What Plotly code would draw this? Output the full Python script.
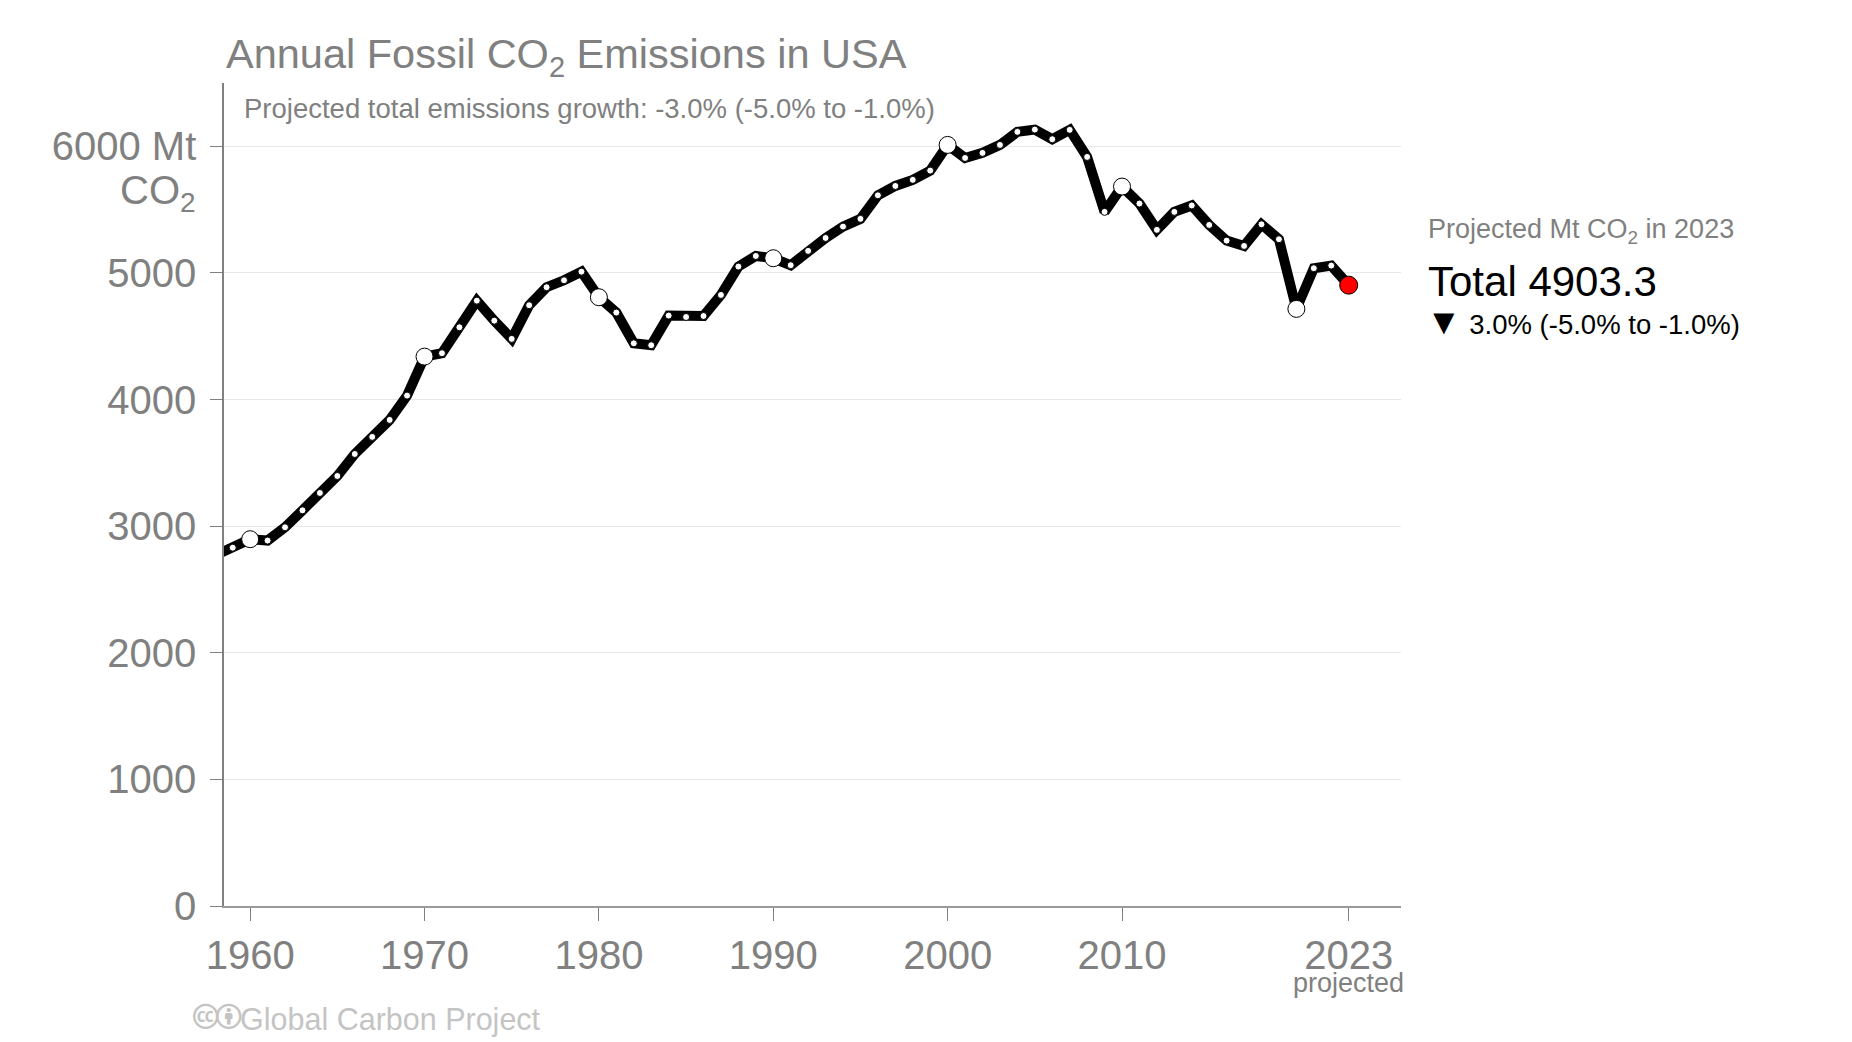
import plotly.graph_objects as go

years = list(range(1958, 2024))
emissions = [2770, 2830, 2897, 2886, 2991, 3125, 3262, 3396, 3570, 3705,
             3839, 4031, 4339, 4366, 4571, 4781, 4623, 4479, 4745, 4887,
             4942, 5010, 4808, 4687, 4444, 4429, 4663, 4652, 4660, 4826,
             5050, 5134, 5116, 5061, 5174, 5276, 5366, 5427, 5613, 5687,
             5735, 5808, 6011, 5908, 5948, 6011, 6114, 6132, 6056, 6130,
             5916, 5482, 5682, 5548, 5340, 5482, 5533, 5379, 5255, 5213,
             5384, 5266, 4716, 5037, 5058, 4903.3]
proj_year = 2023
proj_value = 4903.3
growth = "-3.0%"
growth_range = "(-5.0% to -1.0%)"

ytick_vals = [0, 1000, 2000, 3000, 4000, 5000, 6000]
ytick_text = ["0", "1000", "2000", "3000", "4000", "5000", "6000 Mt"]
xtick_vals = [1960, 1970, 1980, 1990, 2000, 2010, 2023]
xtick_text = ["1960", "1970", "1980", "1990", "2000", "2010", "2023"]

font = "Liberation Sans, Arial, Helvetica, sans-serif"
grey = "#808080"

small_x = [y for y in years if y % 10 != 0 and y != proj_year]
small_y = [v for y, v in zip(years, emissions) if y % 10 != 0 and y != proj_year]
big_x = [y for y in years if y % 10 == 0]
big_y = [v for y, v in zip(years, emissions) if y % 10 == 0]

fig = go.Figure()
fig.add_trace(go.Scatter(x=years, y=emissions, mode="lines",
                         line=dict(color="black", width=10)))
fig.add_trace(go.Scatter(x=small_x, y=small_y, mode="markers",
                         marker=dict(color="white", size=7,
                                     line=dict(color="black", width=1))))
fig.add_trace(go.Scatter(x=big_x, y=big_y, mode="markers",
                         marker=dict(color="white", size=17,
                                     line=dict(color="black", width=1))))
fig.add_trace(go.Scatter(x=[proj_year], y=[proj_value], mode="markers",
                         marker=dict(color="red", size=18,
                                     line=dict(color="black", width=1))))

# page body adds 8px margin, so margins are reduced by 8
fig.update_layout(
    width=1852, height=1042,
    margin=dict(l=216, r=459, t=75, b=144),
    paper_bgcolor="white", plot_bgcolor="white",
    showlegend=False,
    font=dict(family=font, color=grey),
)
fig.update_xaxes(range=[1958.5, 2026], tickvals=xtick_vals, ticktext=xtick_text,
                 ticks="outside", ticklen=13, tickcolor=grey, tickwidth=1,
                 tickfont=dict(size=40, color=grey), showgrid=False,
                 showline=True, linecolor="#999999", linewidth=2, zeroline=False)
fig.update_yaxes(range=[0, 6500], tickvals=ytick_vals, ticktext=ytick_text,
                 ticks="outside", ticklen=12, tickcolor=grey, tickwidth=1,
                 tickfont=dict(size=40, color=grey), ticklabelstandoff=6,
                 showgrid=True, gridcolor="#e8e8e8", gridwidth=1,
                 showline=True, linecolor=grey, linewidth=1.5, zeroline=False)

fig.add_annotation(text="Annual Fossil CO<sub>2</sub> Emissions in USA",
                   xref="paper", yref="paper", x=0, y=1.032, xanchor="left",
                   yanchor="middle", xshift=0, showarrow=False,
                   font=dict(size=41.5, color=grey))
fig.add_annotation(text="Projected total emissions growth: " + growth + " " + growth_range,
                   xref="paper", yref="paper", x=0, y=0.9696, xanchor="left",
                   yanchor="middle", xshift=18, showarrow=False,
                   font=dict(size=27.5, color=grey))
fig.add_annotation(text="CO<sub>2</sub>", xref="paper", yref="paper", x=0, y=0.866,
                   xanchor="right", yanchor="middle", xshift=-26, showarrow=False,
                   font=dict(size=40, color=grey))
fig.add_annotation(text="projected", xref="x", yref="paper", x=proj_year, y=-0.094,
                   xanchor="center", yanchor="middle", showarrow=False,
                   font=dict(size=27, color=grey))
fig.add_annotation(text="Projected Mt CO<sub>2</sub> in " + str(proj_year),
                   xref="paper", yref="paper", x=1, y=0.8205, xanchor="left",
                   yanchor="middle", xshift=25, showarrow=False,
                   font=dict(size=27, color=grey))
fig.add_annotation(text="Total " + str(proj_value),
                   xref="paper", yref="paper", x=1, y=0.7591, xanchor="left",
                   yanchor="middle", xshift=25, showarrow=False,
                   font=dict(size=42, color="black"))
fig.add_annotation(text="<span style='font-size:36px'>\u25bc</span> "
                        + growth.lstrip("-") + " " + growth_range,
                   xref="paper", yref="paper", x=1, y=0.7103, xanchor="left",
                   yanchor="middle", xshift=23, showarrow=False,
                   font=dict(size=27.5, color="black"))
fig.add_annotation(text="<span style='font-size:38px'>\U0001F16D\U0001F16F</span>Global Carbon Project",
                   xref="paper", yref="paper", x=0, y=-0.1354, xanchor="left",
                   yanchor="middle", xshift=-33, showarrow=False,
                   font=dict(size=30.5, color="#c4c4c4"))

fig.write_html("out.html")
